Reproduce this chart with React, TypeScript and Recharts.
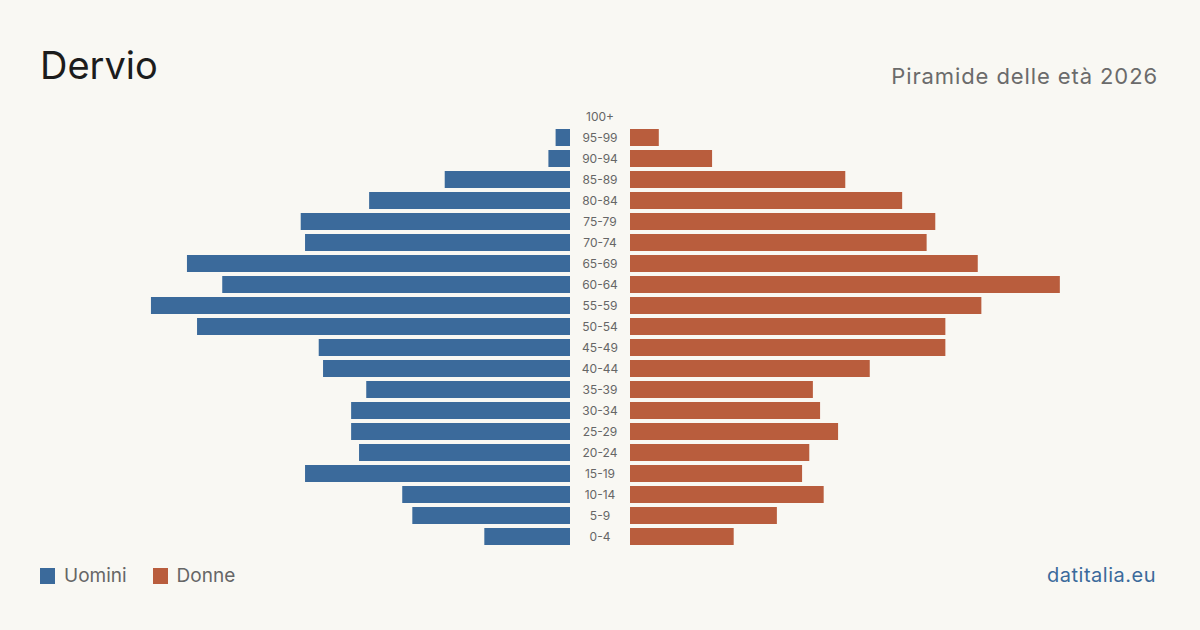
import { BarChart, Bar, XAxis, YAxis } from "recharts";

const ages = [
  "100+", "95-99", "90-94", "85-89", "80-84", "75-79", "70-74", "65-69", "60-64", "55-59",
  "50-54", "45-49", "40-44", "35-39", "30-34", "25-29", "20-24", "15-19", "10-14", "5-9", "0-4",
];
const men = [0, 2, 3, 17.4, 27.9, 37.4, 36.8, 53.2, 48.3, 58.2, 51.8, 34.9, 34.3, 28.3, 30.4, 30.4, 29.3, 36.8, 23.3, 21.9, 11.9];
const women = [0, 4, 11.4, 29.9, 37.8, 42.4, 41.2, 48.3, 59.7, 48.8, 43.8, 43.8, 33.3, 25.4, 26.4, 28.9, 24.9, 23.9, 26.9, 20.4, 14.4];

const data = ages.map((age, i) => ({ age, men: men[i], women: women[i] }));

const BLUE = "#3b6a9b";
const ORANGE = "#b95d3d";
const FONT = "Inter, 'Noto Sans', sans-serif";
const MAX = 75;

function AgeTick(props: any) {
  const { y, payload } = props;
  return (
    <text x={30} y={y} dy={4} textAnchor="middle" fontSize={12} fill="#666" fontFamily={FONT}>
      {payload.value}
    </text>
  );
}

export default function App() {
  return (
    <div style={{ position: "absolute", left: 0, top: 0, width: 1200, height: 630, background: "#f9f8f3", fontFamily: FONT, overflow: "hidden" }}>
      <div style={{ position: "absolute", left: 40, top: 42, fontSize: 38, color: "#1c1c1c" }}>Dervio</div>
      <div style={{ position: "absolute", right: 42, top: 63, fontSize: 22, letterSpacing: 0.9, color: "#6b6b6b" }}>Piramide delle età 2026</div>

      <div style={{ position: "absolute", left: 30, top: 106 }}>
        <BarChart width={540} height={441} data={data} layout="vertical" margin={{ top: 0, right: 0, bottom: 0, left: 0 }}>
          <XAxis type="number" domain={[0, MAX]} reversed hide />
          <YAxis type="category" dataKey="age" hide />
          <Bar dataKey="men" fill={BLUE} barSize={17} isAnimationActive={false} />
        </BarChart>
      </div>

      <div style={{ position: "absolute", left: 570, top: 106 }}>
        <BarChart width={600} height={441} data={data} layout="vertical" margin={{ top: 0, right: 0, bottom: 0, left: 0 }}>
          <XAxis type="number" domain={[0, MAX]} hide />
          <YAxis type="category" dataKey="age" width={60} axisLine={false} tickLine={false} tick={<AgeTick />} interval={0} />
          <Bar dataKey="women" fill={ORANGE} barSize={17} isAnimationActive={false} />
        </BarChart>
      </div>

      <div style={{ position: "absolute", left: 40, top: 564, display: "flex", alignItems: "center", fontSize: 19, color: "#666" }}>
        <span style={{ width: 15, height: 16, background: BLUE, display: "inline-block", marginRight: 9 }} />
        <span>Uomini</span>
        <span style={{ width: 15, height: 16, background: ORANGE, display: "inline-block", marginLeft: 26, marginRight: 9 }} />
        <span>Donne</span>
      </div>

      <div style={{ position: "absolute", right: 44, top: 563, fontSize: 20, letterSpacing: 0.5, color: BLUE }}>datitalia.eu</div>
    </div>
  );
}
